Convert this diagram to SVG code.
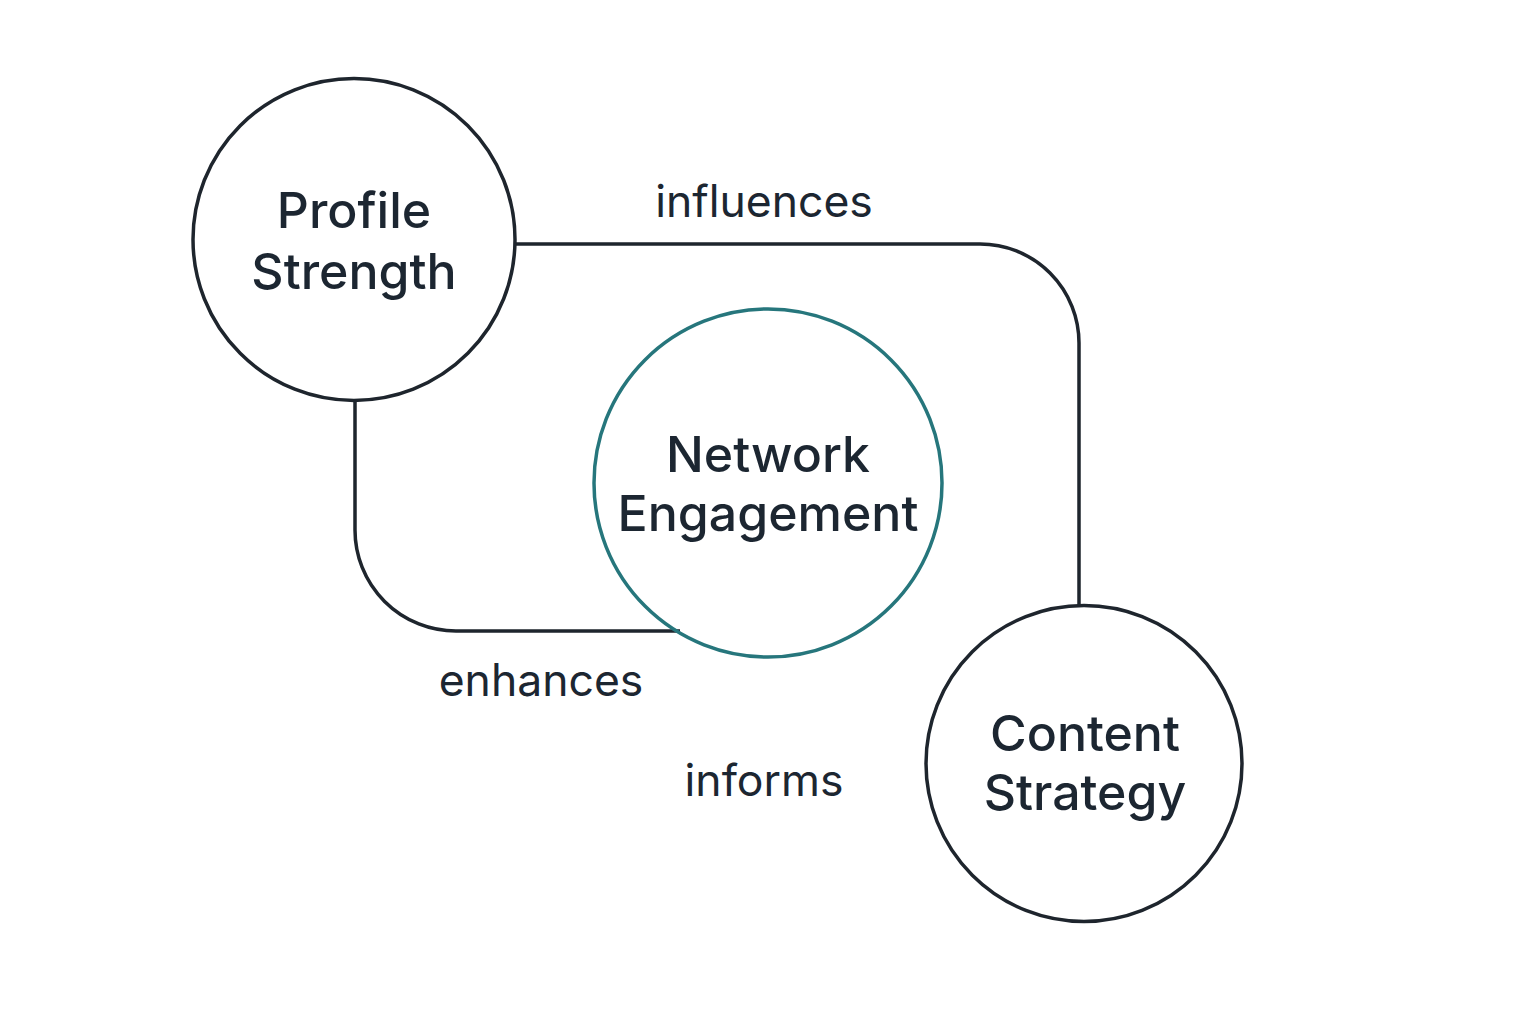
<svg xmlns="http://www.w3.org/2000/svg" width="1536" height="1024" viewBox="0 0 1536 1024">
<style>
.node{fill:#ffffff;stroke:#1e252d;stroke-width:3.5}
.teal{stroke:#26767c}
.conn{fill:none;stroke:#1e252d;stroke-width:3.5}
.nt{font-family:Inter,"Noto Sans",sans-serif;font-weight:500;font-size:50px;fill:#1c2631;text-anchor:middle}
.lb{font-family:Inter,"Noto Sans",sans-serif;font-weight:400;font-size:44.5px;fill:#1c2631;text-anchor:middle}
</style>
<rect width="1536" height="1024" fill="#ffffff"/>
<g id="connectors">
<path class="conn" d="M516,244 H980 A99,99 0 0 1 1079,343 V608"/>
<path class="conn" d="M355,400 V530 A101,101 0 0 0 456,631 H680"/>
</g>
<g id="profile-strength">
<circle class="node" cx="354" cy="239.5" r="161"/>
<text class="nt" x="354" y="228">Profile</text>
<text class="nt" x="354" y="289">Strength</text>
</g>
<g id="network-engagement">
<circle class="node teal" cx="768" cy="483" r="174" style="fill:none"/>
<text class="nt" x="768" y="472">Network</text>
<text class="nt" x="768" y="531">Engagement</text>
</g>
<g id="content-strategy">
<circle class="node" cx="1084" cy="763.5" r="158"/>
<text class="nt" x="1085" y="751">Content</text>
<text class="nt" x="1085" y="810">Strategy</text>
</g>
<g id="labels">
<text class="lb" x="764" y="217">influences</text>
<text class="lb" x="541" y="696">enhances</text>
<text class="lb" x="764" y="796">informs</text>
</g>
</svg>
